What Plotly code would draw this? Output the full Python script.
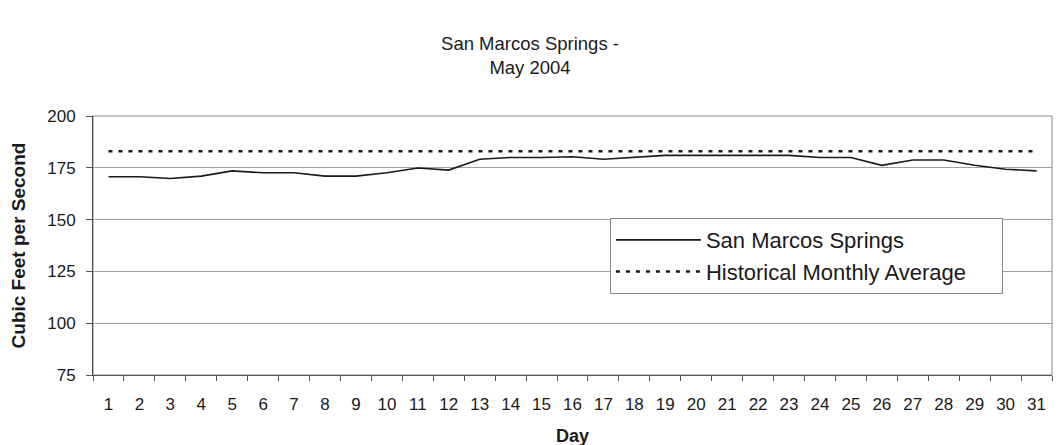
import plotly.graph_objects as go

days = [str(d) for d in range(1, 32)]
flow = [170.7, 170.7, 169.8, 171.0, 173.5, 172.6, 172.6, 171.0, 171.0, 172.6,
        174.9, 173.9, 179.1, 180.0, 180.0, 180.3, 179.1, 180.0, 181.0, 181.0,
        181.0, 181.0, 181.0, 180.0, 180.0, 176.2, 178.8, 178.8, 176.2, 174.3, 173.5]
historical_avg = 183.0
y_ticks = [75, 100, 125, 150, 175, 200]

font_family = "Liberation Sans, Arial, sans-serif"
ink = "#1a1a1a"

fig = go.Figure()
fig.add_trace(go.Scatter(
    x=days, y=flow, mode="lines", name="San Marcos Springs",
    line=dict(color=ink, width=1.6)))
fig.add_trace(go.Scatter(
    x=days, y=[historical_avg] * len(days), mode="lines",
    name="Historical Monthly Average\u00a0\u00a0\u00a0\u00a0\u00a0",
    line=dict(color=ink, width=2.6, dash="4px,6px")))

fig.update_layout(
    width=1061, height=445,
    margin=dict(l=85, r=17, t=108, b=78),
    paper_bgcolor="white", plot_bgcolor="white",
    font=dict(family=font_family, color=ink, size=17),
    title=dict(text="San Marcos Springs -<br>May 2004", x=(530 - 8) / 1061,
               xanchor="center",
               yref="container", y=0.905, yanchor="top", font=dict(size=18.5)),
    showlegend=True,
    legend=dict(x=0.539, y=0.606, xanchor="left", yanchor="top",
                bordercolor="#888888", borderwidth=1, bgcolor="white",
                font=dict(size=22), tracegroupgap=0, itemwidth=85),
    xaxis=dict(type="category", range=[-0.5, 30.5], tickson="boundaries",
               ticks="outside", automargin=False,
               ticklen=5, tickcolor="#555555", showline=True, linecolor="#555555",
               mirror=False, showgrid=False, ticklabelstandoff=14,
               title=dict(text="<b>Day</b>", font=dict(size=18), standoff=15),
               tickfont=dict(size=17)),
    yaxis=dict(range=[75, 200], tickvals=y_ticks, ticks="outside", ticklen=6,
               automargin=False, ticklabelstandoff=7,
               tickcolor="#555555", showline=True, linecolor="#444444",
               showgrid=True, gridcolor="#a0a0a0", gridwidth=1, zeroline=False,
               title=dict(text="<b>Cubic Feet per Second</b>", font=dict(size=19),
                          standoff=18),
               tickfont=dict(size=17)),
)
fig.add_shape(type="rect", xref="paper", yref="paper", x0=0, x1=1, y0=0, y1=1,
              line=dict(color="#888888", width=1), layer="below")

fig.write_html("out.html")
